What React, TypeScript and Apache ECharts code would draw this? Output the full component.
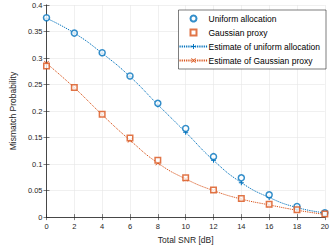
import React, { useEffect, useRef } from "react";
import * as echarts from "echarts";

const snr = [0, 2, 4, 6, 8, 10, 12, 14, 16, 18, 20];
const uniformAlloc = [0.376, 0.347, 0.31, 0.266, 0.2145, 0.167, 0.114, 0.074, 0.042, 0.02, 0.008];
const gaussianProxy = [0.285, 0.2445, 0.194, 0.149, 0.107, 0.074, 0.051, 0.035, 0.024, 0.014, 0.006];
const estUniform = [0.375, 0.347, 0.309, 0.265, 0.212, 0.16, 0.107, 0.065, 0.037, 0.018, 0.008];
const estGaussian = [0.29, 0.244, 0.193, 0.145, 0.102, 0.072, 0.05, 0.034, 0.023, 0.013, 0.005];
const seriesNames = [
  "Uniform allocation",
  "Gaussian proxy",
  "Estimate of uniform allocation",
  "Estimate of Gaussian proxy",
];

const BLUE = "#0072BD";
const ORANGE = "#D95319";
const FONT = "'Liberation Sans', Arial, sans-serif";
const PLUS = "path://M4,0H6V4H10V6H6V10H4V6H0V4H4Z";
const CROSS = "path://M1,0L5,4L9,0L10,1L6,5L10,9L9,10L5,6L1,10L0,9L4,5L0,1Z";
const SQUARE = "path://M0,0H10V10H0Z";

const pairs = (ys: number[]) => snr.map((x, i) => [x, ys[i]]);

export default function App() {
  const ref = useRef<HTMLDivElement>(null);
  useEffect(() => {
    if (!ref.current) return;
    const chart = echarts.init(ref.current, null, { renderer: "svg" });
    const axisCommon = {
      axisLine: { show: true, lineStyle: { color: "#262626", width: 0.6 } },
      axisTick: { show: true, inside: true, length: 3, lineStyle: { color: "#262626", width: 0.6 } },
    };
    chart.setOption({
      animation: false,
      backgroundColor: "#fff",
      textStyle: { fontFamily: FONT },
      grid: { left: 33, right: 5, top: 5, bottom: 26, containLabel: false },
      legend: {
        data: [
          { name: seriesNames[0], icon: "circle" },
          { name: seriesNames[1], icon: SQUARE },
          { name: seriesNames[2] },
          { name: seriesNames[3] },
        ],
        orient: "vertical",
        right: 6,
        top: 10,
        itemWidth: 28,
        itemHeight: 6,
        itemGap: 5,
        padding: [4, 6, 4, 0],
        borderColor: "#262626",
        borderWidth: 0.6,
        backgroundColor: "#fff",
        textStyle: { fontSize: 8.5, color: "#000", fontFamily: FONT, padding: [0, 0, 0, -4] },
      },
      xAxis: [
        {
          type: "value",
          min: 0,
          max: 20,
          interval: 2,
          name: "Total SNR [dB]",
          nameLocation: "middle",
          nameGap: 16,
          nameTextStyle: { fontSize: 8.5, color: "#262626", fontFamily: FONT },
          axisLabel: { fontSize: 7.5, color: "#262626", margin: 5, fontFamily: FONT },
          splitLine: { show: true, lineStyle: { color: "#e6e6e6", width: 0.6 } },
          ...axisCommon,
        },
        {
          type: "value",
          position: "top",
          min: 0,
          max: 20,
          interval: 2,
          axisLabel: { show: false },
          splitLine: { show: false },
          ...axisCommon,
        },
      ],
      yAxis: [
        {
          type: "value",
          min: 0,
          max: 0.4,
          interval: 0.05,
          name: "Mismatch Probability",
          nameLocation: "middle",
          nameGap: 23,
          nameTextStyle: { fontSize: 8.5, color: "#262626", fontFamily: FONT },
          axisLabel: { fontSize: 7.5, color: "#262626", margin: 4, fontFamily: FONT },
          splitLine: { show: true, lineStyle: { color: "#e6e6e6", width: 0.6 } },
          ...axisCommon,
        },
        {
          type: "value",
          position: "right",
          min: 0,
          max: 0.4,
          interval: 0.05,
          axisLabel: { show: false },
          splitLine: { show: false },
          ...axisCommon,
        },
      ],
      series: [
        {
          name: seriesNames[2],
          type: "line",
          data: pairs(estUniform),
          smooth: true,
          symbol: PLUS,
          symbolSize: 5,
          itemStyle: { color: BLUE },
          lineStyle: { color: BLUE, width: 1, type: [1.2, 1] },
          z: 2,
        },
        {
          name: seriesNames[3],
          type: "line",
          data: pairs(estGaussian),
          smooth: true,
          symbol: CROSS,
          symbolSize: 5,
          itemStyle: { color: ORANGE },
          lineStyle: { color: ORANGE, width: 1, type: [1.2, 1] },
          z: 2,
        },
        {
          name: seriesNames[0],
          type: "scatter",
          data: pairs(uniformAlloc),
          symbol: "circle",
          symbolSize: 6,
          itemStyle: { color: "#fff", borderColor: BLUE, borderWidth: 1.5 },
          z: 3,
        },
        {
          name: seriesNames[1],
          type: "scatter",
          data: pairs(gaussianProxy),
          symbol: SQUARE,
          symbolSize: 5.5,
          itemStyle: { color: "#fff", borderColor: ORANGE, borderWidth: 1.5 },
          z: 3,
        },
      ],
    });
    return () => chart.dispose();
  }, []);
  return <div ref={ref} style={{ width: 332, height: 249, position: "absolute", left: 0, top: 0 }} />;
}
